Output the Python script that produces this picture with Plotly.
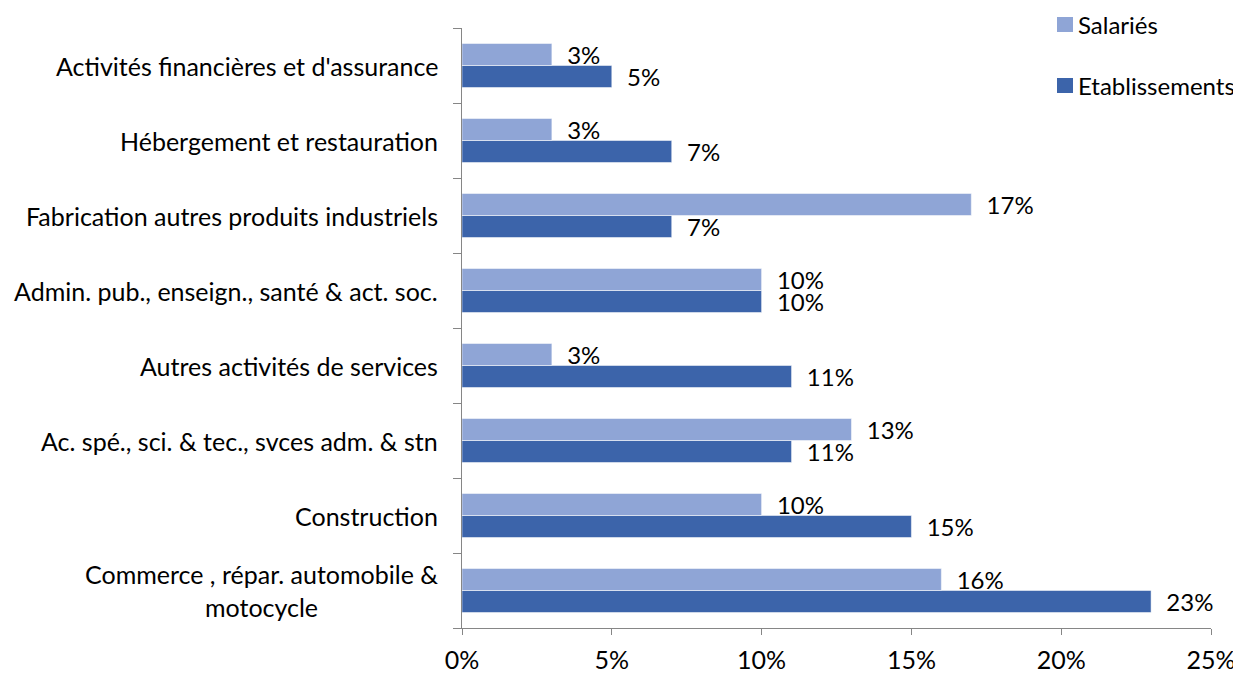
import plotly.graph_objects as go

# categories from bottom to top
categories = [
    "Commerce , répar. automobile &<br>motocycle",
    "Construction",
    "Ac. spé., sci. & tec., svces adm. & stn",
    "Autres activités de services",
    "Admin. pub., enseign., santé & act. soc.",
    "Fabrication autres produits industriels",
    "Hébergement et restauration",
    "Activités financières et d'assurance",
]
salaries = [16, 10, 13, 3, 10, 17, 3, 3]
etablissements = [23, 15, 11, 11, 10, 7, 7, 5]
x_ticks = [0, 5, 10, 15, 20, 25]

FONT = "Lato"
FS = 25
LIGHT = "#8FA5D6"
DARK = "#3C64AA"
AXIS = "#868686"

# page body has an 8px margin, so the figure is sized to fit inside the window
W, H = 1233, 665
ML, MR, MT, MB = 454, 30, 20, 45
PW, PH = W - ML - MR, H - MT - MB


def px_x(x):
    return (x - ML) / PW


def px_y(y):
    return 1 - (y - MT) / PH


fig = go.Figure()
fig.add_trace(go.Bar(
    y=categories, x=etablissements, orientation="h", name="Etablissements",
    marker=dict(color=DARK, line=dict(color="white", width=0.5)),
    text=[f"{v}%" for v in etablissements], textposition="outside",
    texttemplate="  %{text}", textfont=dict(size=24, color="black", family=FONT),
    constraintext="none", cliponaxis=False, showlegend=False,
))
fig.add_trace(go.Bar(
    y=categories, x=salaries, orientation="h", name="Salariés",
    marker=dict(color=LIGHT, line=dict(color="white", width=0.5)),
    text=[f"{v}%" for v in salaries], textposition="outside",
    texttemplate="  %{text}", textfont=dict(size=24, color="black", family=FONT),
    constraintext="none", cliponaxis=False, showlegend=False,
))

# category labels as annotations so the wrapped label is centred
for cat in categories:
    fig.add_annotation(
        x=0, xref="paper", y=cat, yref="y", text=cat, showarrow=False,
        xanchor="right", align="center", xshift=-22,
        font=dict(size=FS, color="black", family=FONT),
    )

# legend drawn by hand (Excel style, wide spacing)
for name, color, top in [("Salariés", LIGHT, 9), ("Etablissements", DARK, 70)]:
    fig.add_shape(
        type="rect", xref="paper", yref="paper",
        x0=px_x(1049), x1=px_x(1065), y0=px_y(top + 15), y1=px_y(top),
        fillcolor=color, line=dict(width=0),
    )
    fig.add_annotation(
        x=px_x(1070), y=px_y(top + 7.5), xref="paper", yref="paper",
        text=name, showarrow=False, xanchor="left", yanchor="middle",
        xshift=-2, font=dict(size=24, color="black", family=FONT),
    )

fig.update_layout(
    width=W, height=H,
    margin=dict(l=ML, r=MR, t=MT, b=MB, autoexpand=False),
    paper_bgcolor="white", plot_bgcolor="white",
    barmode="group", bargap=0.413, bargroupgap=0,
    font=dict(family=FONT, size=FS, color="black"),
    showlegend=False,
    xaxis=dict(
        range=[0, 25], tickvals=x_ticks, ticktext=[f"{v}%" for v in x_ticks],
        showgrid=False, zeroline=False, showline=True, linecolor=AXIS,
        ticks="outside", ticklen=6, tickcolor=AXIS, automargin=False,
        ticklabelstandoff=4, tickfont=dict(size=FS, family=FONT),
    ),
    yaxis=dict(
        type="category", showgrid=False, zeroline=False, showline=True,
        linecolor=AXIS, ticks="outside", ticklen=8, tickcolor=AXIS,
        tickson="boundaries", showticklabels=False, range=[-0.5, 7.5],
        automargin=False,
    ),
)

fig.write_html("out.html")
